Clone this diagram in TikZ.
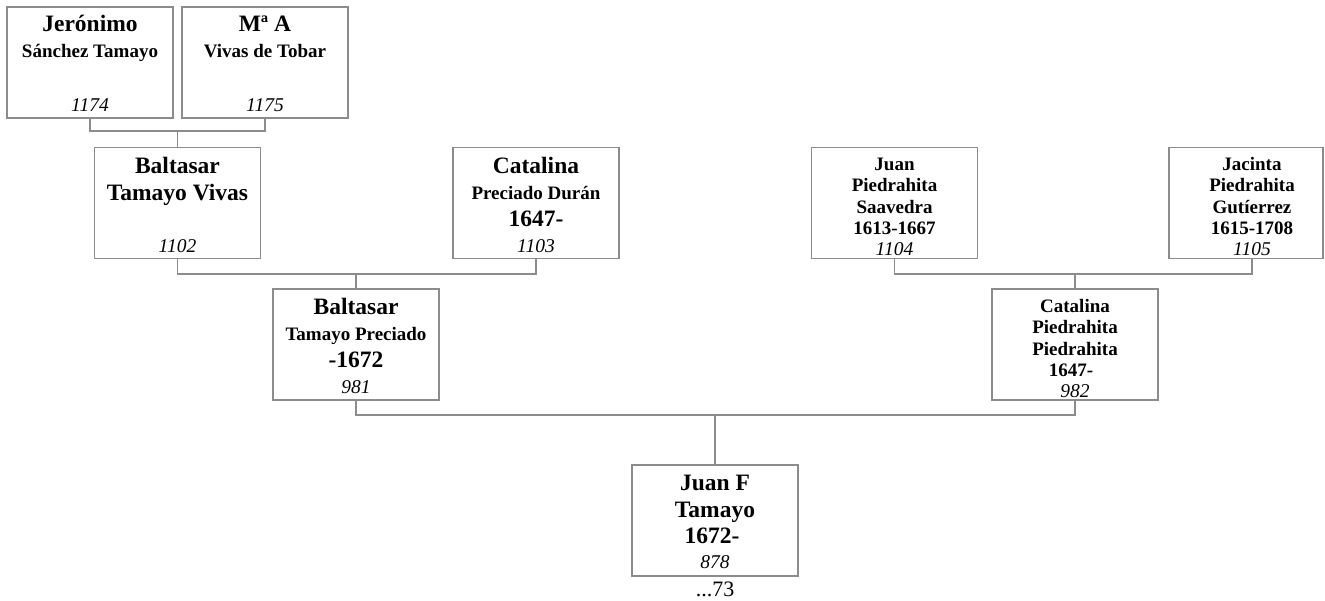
\documentclass[tikz,border=0pt]{standalone}
\usepackage{fontspec}
\setmainfont{Liberation Serif}
\begin{document}
\begin{tikzpicture}[x=1pt,y=-1pt,
  person/.style={draw=gray!90,line width=1.2pt,fill=white,inner sep=0pt,minimum width=166pt,minimum height=111pt},
  link/.style={draw=gray!90,line width=1.2pt},
  big/.style={anchor=base,inner sep=0pt,font=\bfseries\fontsize{23.5}{26}\selectfont},
  mid/.style={anchor=base,inner sep=0pt,font=\bfseries\fontsize{19}{21}\selectfont},
  num/.style={anchor=base,inner sep=0pt,font=\itshape\fontsize{19.5}{21}\selectfont},
  extra/.style={anchor=base,inner sep=0pt,font=\fontsize{22}{24}\selectfont}]
\useasboundingbox (0,0) rectangle (1325,600);
% boxes
\node[person] (jer) at (90,62.5) {};
\node[person] (ma) at (265,62.5) {};
\node[person] (btv) at (177.5,203) {};
\node[person] (cpd) at (536,203) {};
\node[person] (jps) at (894.5,203) {};
\node[person,minimum width=154pt] (jpg) at (1246,203) {};
\node[person] (btp) at (356,344.5) {};
\node[person] (cpp) at (1075,344.5) {};
\node[person] (jft) at (715,520.5) {};
\coordinate (jpgb) at (1252,258.5);
% texts
\node[big] (t1a) at (90,31) {Jerónimo};
\node[mid] (t1b) at (90,57) {Sánchez Tamayo};
\node[num] (t1c) at (90,111) {1174};
\node[big] (t2a) at (265,31) {Mª A};
\node[mid] (t2b) at (265,57) {Vivas de Tobar};
\node[num] (t2c) at (265,111) {1175};
\node[big] (t3a) at (177.5,173) {Baltasar};
\node[big] (t3b) at (177.5,200) {Tamayo Vivas};
\node[num] (t3c) at (177.5,252.5) {1102};
\node[big] (t4a) at (536,173) {Catalina};
\node[mid] (t4b) at (536,199) {Preciado Durán};
\node[big] (t4c) at (536,226) {1647-};
\node[num] (t4d) at (536,252.5) {1103};
\node[mid] (t5a) at (894.5,170) {Juan};
\node[mid] (t5b) at (894.5,191.5) {Piedrahita};
\node[mid] (t5c) at (894.5,213) {Saavedra};
\node[mid] (t5d) at (894.5,234) {1613-1667};
\node[num] (t5e) at (894.5,255) {1104};
\node[mid] (t6a) at (1252,170) {Jacinta};
\node[mid] (t6b) at (1252,191.5) {Piedrahita};
\node[mid] (t6c) at (1252,213) {Gutíerrez};
\node[mid] (t6d) at (1252,234) {1615-1708};
\node[num] (t6e) at (1252,255) {1105};
\node[big] (t7a) at (356,314) {Baltasar};
\node[mid] (t7b) at (356,340) {Tamayo Preciado};
\node[big] (t7c) at (356,367) {-1672};
\node[num] (t7d) at (356,393) {981};
\node[mid] (t8a) at (1075,312) {Catalina};
\node[mid] (t8b) at (1075,333.5) {Piedrahita};
\node[mid] (t8c) at (1075,355) {Piedrahita};
\node[mid] (t8d) at (1071,376) {1647-};
\node[num] (t8e) at (1075,397) {982};
\node[big] (t9a) at (715,490) {Juan F};
\node[big] (t9b) at (715,517) {Tamayo};
\node[big] (t9c) at (712,543) {1672-};
\node[num] (t9d) at (715,568) {878};
\node[extra] (t9e) at (715,596) {...73};
% connectors
\coordinate (j1) at (177.5,131);
\coordinate (j2) at (356,274);
\coordinate (j3) at (1075,274);
\coordinate (j4) at (715,415);
\draw[link] (jer.south) |- (j1) -| (ma.south);
\draw[link] (j1) -- (btv.north);
\draw[link] (btv.south) |- (j2) -| (cpd.south);
\draw[link] (j2) -- (btp.north);
\draw[link] (jps.south) |- (j3) -| (jpgb);
\draw[link] (j3) -- (cpp.north);
\draw[link] (btp.south) |- (j4) -| (cpp.south);
\draw[link] (j4) -- (jft.north);
\end{tikzpicture}
\end{document}
